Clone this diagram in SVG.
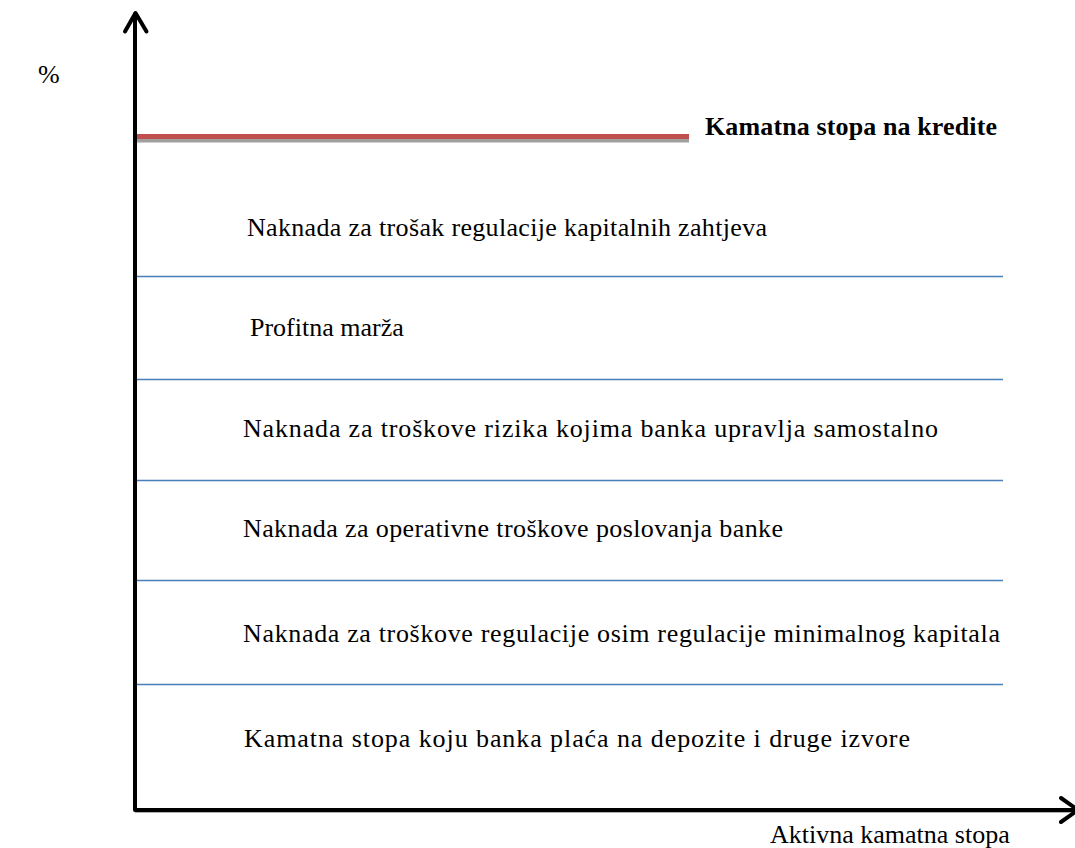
<svg xmlns="http://www.w3.org/2000/svg" width="1075" height="848" viewBox="0 0 1075 848">
<style>
.t{font-family:"Liberation Serif","Times New Roman",serif;font-size:26px;fill:#000}
.b{font-weight:bold}
.blue{stroke:#4a7ebb;stroke-width:1.7;fill:none}
.axis{stroke:#000;stroke-width:4;fill:none;stroke-linecap:round;stroke-linejoin:round}
</style>
<rect width="1075" height="848" fill="#fff"/>
<g id="connectors">
<line class="blue" x1="135" y1="276.5" x2="1003" y2="276.5"/>
<line class="blue" x1="135" y1="379.5" x2="1003" y2="379.5"/>
<line class="blue" x1="135" y1="480.5" x2="1003" y2="480.5"/>
<line class="blue" x1="135" y1="580.5" x2="1003" y2="580.5"/>
<line class="blue" x1="135" y1="684.5" x2="1003" y2="684.5"/>
<line x1="135" y1="140.5" x2="689" y2="140.5" stroke="#a0a0a0" stroke-width="4"/>
<line x1="135" y1="136.5" x2="689" y2="136.5" stroke="#c0504d" stroke-width="5"/>
<line x1="135" y1="812" x2="1076" y2="812" stroke="#b0b0b0" stroke-width="2"/>
<path class="axis" d="M135 14 V810 H1076"/>
<path class="axis" d="M125 31.5 L135.5 13 L146.5 31.5"/>
<path class="axis" d="M1061 798 L1078 810 L1061 822"/>
</g>
<g id="y-label"><text class="t" x="38" y="83">%</text></g>
<g id="x-label"><text class="t" x="770" y="843">Aktivna kamatna stopa</text></g>
<g id="kredite"><text class="t b" x="705" y="135" textLength="292" lengthAdjust="spacing">Kamatna stopa na kredite</text></g>
<g id="layer1"><text class="t" x="247" y="236" textLength="520" lengthAdjust="spacing">Naknada za trošak regulacije kapitalnih zahtjeva</text></g>
<g id="layer2"><text class="t" x="250" y="336">Profitna marža</text></g>
<g id="layer3"><text class="t" x="243" y="437" textLength="695" lengthAdjust="spacing">Naknada za troškove rizika kojima banka upravlja samostalno</text></g>
<g id="layer4"><text class="t" x="243" y="537" textLength="540" lengthAdjust="spacing">Naknada za operativne troškove poslovanja banke</text></g>
<g id="layer5"><text class="t" x="243" y="642" textLength="757" lengthAdjust="spacing">Naknada za troškove regulacije osim regulacije minimalnog kapitala</text></g>
<g id="layer6"><text class="t" x="244" y="747" textLength="666" lengthAdjust="spacing">Kamatna stopa koju banka plaća na depozite i druge izvore</text></g>
</svg>
